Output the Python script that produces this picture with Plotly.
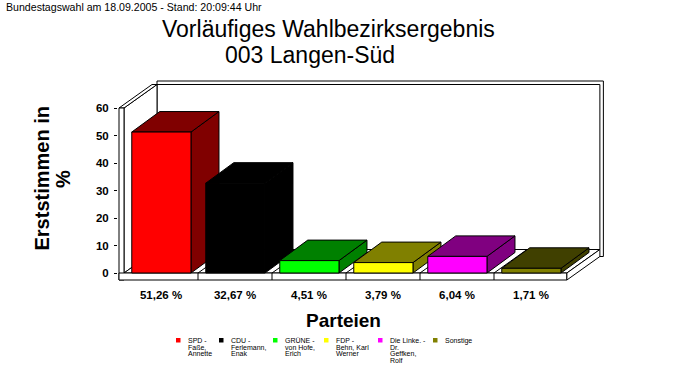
import plotly.graph_objects as go

# ---------------- data ----------------
parties = ["SPD", "CDU", "GRÜNE", "FDP", "Die Linke.", "Sonstige"]
legend_lines = [
    ["SPD -", "Faße,", "Annette"],
    ["CDU -", "Ferlemann,", "Enak"],
    ["GRÜNE -", "von Hofe,", "Erich"],
    ["FDP -", "Behn, Karl", "Werner"],
    ["Die Linke. -", "Dr.", "Geffken,", "Rolf"],
    ["Sonstige"],
]
values = [51.26, 32.67, 4.51, 3.79, 6.04, 1.71]
value_labels = ["51,26 %", "32,67 %", "4,51 %", "3,79 %", "6,04 %", "1,71 %"]
front_colors = ["#FF0000", "#000000", "#00FF00", "#FFFF00", "#FF00FF", "#808000"]
shade_colors = ["#800000", "#000000", "#008000", "#808000", "#800080", "#404000"]
y_ticks = [0, 10, 20, 30, 40, 50, 60]
y_top = 60

title_line1 = "Vorläufiges Wahlbezirksergebnis"
title_line2 = "003 Langen-Süd"
header = "Bundestagswahl am 18.09.2005 - Stand: 20:09:44 Uhr"
y_title_lines = ["Erststimmen in", "%"]
x_title = "Parteien"

# ---------------- geometry (pixels) ----------------
W, H = 683, 380
X0_PX, PX_X = 124, 74.0      # pixel of category 0 left edge, px per category
Y0_PX, PX_Y = 273, 2.75      # pixel of value 0, px per unit
PLOT_L, PLOT_R, PLOT_T, PLOT_B = 118, 612, 78, 282


def xpx(p):
    return (p - X0_PX) / PX_X


def ypx(p):
    return (Y0_PX - p) / PX_Y


def paper_x(p):
    return (p - PLOT_L) / (PLOT_R - PLOT_L)


def paper_y(p):
    return (PLOT_B - p) / (PLOT_B - PLOT_T)


FONT = "Arial, Liberation Sans, sans-serif"

DX, DY = 33 / PX_X, 23.5 / PX_Y      # wall depth
BDX, BDY = 28 / PX_X, 20.5 / PX_Y    # bar depth
T = 5 / PX_X                         # left wall thickness
S = 7 / PX_Y                         # floor slab thickness
TX, TY = 3.5 / PX_X, 3.5 / PX_Y      # back wall thickness
n = len(values)
x0 = xpx(119)
x1 = n - 0.015
BAR_L, BAR_R = 0.105, 0.905

fig = go.Figure()


def poly(xs, ys, fill, width=1):
    fig.add_trace(go.Scatter(
        x=list(xs) + [xs[0]], y=list(ys) + [ys[0]], mode="lines",
        fill="toself", fillcolor=fill,
        line=dict(color="black", width=width),
        hoverinfo="skip", showlegend=False))


def seg(xs, ys):
    fig.add_trace(go.Scatter(x=xs, y=ys, mode="lines",
                             line=dict(color="black", width=1),
                             hoverinfo="skip", showlegend=False))


# back wall (outer thickness then face)
poly([x0 + T + DX, x1 + DX + TX, x1 + DX + TX, x0 + T + DX],
     [DY - S, DY - S, y_top + DY + TY, y_top + DY + TY], "white")
poly([x0 + T + DX, x1 + DX, x1 + DX, x0 + T + DX],
     [DY, DY, y_top + DY, y_top + DY], "white")
# left wall: inner face, top strip, front strip
poly([x0 + T, x0 + T, x0 + T + DX, x0 + T + DX],
     [0, y_top, y_top + DY, DY], "white")
poly([x0, x0 + T, x0 + T + DX, x0 + DX],
     [y_top, y_top, y_top + DY, y_top + DY], "white")
poly([x0, x0 + T, x0 + T, x0], [-S, -S, y_top, y_top], "white")
# floor: top, front, right side
poly([x0 + T, x1, x1 + DX, x0 + T + DX], [0, 0, DY, DY], "white")
poly([x0, x1, x1, x0], [-S, -S, 0, 0], "white")
poly([x1, x1 + DX, x1 + DX, x1], [-S, DY - S, DY, 0], "white")
# category separators
for i in range(1, n):
    seg([i, i], [-S, 0])
    seg([i, i + DX], [0, DY])

# bars
for i, v in enumerate(values):
    l, r = i + BAR_L, i + BAR_R
    poly([r, r + BDX, r + BDX, r], [0, BDY, v + BDY, v], shade_colors[i])
    poly([l, r, r + BDX, l + BDX], [v, v, v + BDY, v + BDY], shade_colors[i])
    poly([l, r, r, l], [0, 0, v, v], front_colors[i])

# ---------------- layout ----------------
fig.update_layout(
    width=W, height=H, autosize=False,
    margin=dict(l=PLOT_L, r=W - PLOT_R, t=PLOT_T, b=H - PLOT_B, pad=0),
    paper_bgcolor="white", plot_bgcolor="white",
    showlegend=False,
    font=dict(family=FONT, color="black"),
    xaxis=dict(range=[xpx(PLOT_L), xpx(PLOT_R)], showgrid=False, zeroline=False,
               showline=False, tickvals=[i + 0.5 for i in range(n)],
               ticktext=value_labels, ticks="", ticklabelstandoff=4,
               tickfont=dict(family=FONT, size=11.5, color="black", weight="bold"),
               fixedrange=True),
    yaxis=dict(range=[ypx(PLOT_B), ypx(PLOT_T)], showgrid=False, zeroline=False,
               showline=False, tickvals=y_ticks, ticks="outside", ticklen=3,
               tickcolor="black", ticklabelstandoff=3,
               tickfont=dict(family=FONT, size=11.5, color="black", weight="bold"),
               fixedrange=True),
)

ann = []
ann.append(dict(text=header, x=paper_x(4), y=paper_y(7), xanchor="left", yanchor="middle",
                font=dict(size=10.6, family=FONT, color="black")))
ann.append(dict(text=title_line1, x=paper_x(328.5), y=paper_y(29), xanchor="center",
                yanchor="middle", font=dict(size=23, family=FONT, color="black")))
ann.append(dict(text=title_line2, x=paper_x(310), y=paper_y(55), xanchor="center",
                yanchor="middle", font=dict(size=23, family=FONT, color="black")))
for k, (txt, px) in enumerate(zip(y_title_lines, [41.5, 63])):
    ann.append(dict(text=txt, x=paper_x(px), y=paper_y(179), xanchor="center",
                    yanchor="middle", textangle=-90,
                    font=dict(size=20, family=FONT, color="black", weight="bold")))
ann.append(dict(text=x_title, x=paper_x(343), y=paper_y(320.5), xanchor="center",
                yanchor="middle", font=dict(size=19, family=FONT, color="black", weight="bold")))

legend_sq_px = [176, 219, 273, 324, 378, 433]
shapes = []
for i, lines in enumerate(legend_lines):
    sx = legend_sq_px[i]
    shapes.append(dict(type="rect", xref="paper", yref="paper",
                       x0=paper_x(sx), x1=paper_x(sx + 4.5),
                       y0=paper_y(338), y1=paper_y(342.5),
                       fillcolor=front_colors[i], line=dict(width=0)))
    for j, line in enumerate(lines):
        ann.append(dict(text=line, x=paper_x(sx + 10), y=paper_y(340.5 + 6.7 * j),
                        xanchor="left", yanchor="middle",
                        font=dict(size=7, family=FONT, color="black")))

for a in ann:
    a.update(xref="paper", yref="paper", showarrow=False)
fig.update_layout(annotations=ann, shapes=shapes)

fig.write_html("out.html", config={"displayModeBar": False},
               post_script="document.body.style.margin='0';")
